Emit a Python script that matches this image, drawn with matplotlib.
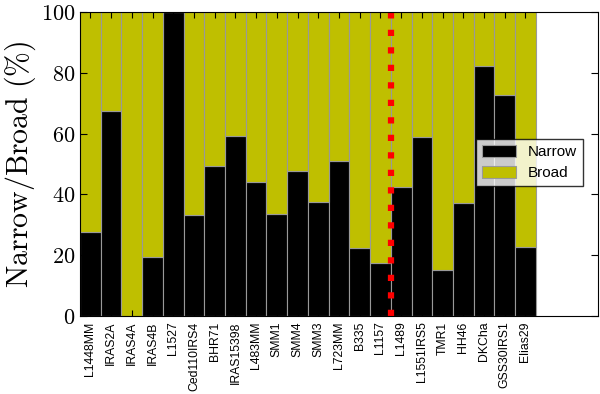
import matplotlib
matplotlib.use("Agg")
import matplotlib.pyplot as plt
import numpy as np

sources = ["L1448MM", "IRAS2A", "IRAS4A", "IRAS4B", "L1527", "Ced110IRS4", "BHR71",
           "IRAS15398", "L483MM", "SMM1", "SMM4", "SMM3", "L723MM", "B335", "L1157",
           "L1489", "L1551IRS5", "TMR1", "HH46", "DKCha", "GSS30IRS1", "Elias29"]
narrow = [27.5, 67.5, 0, 19.5, 100, 33.3, 49.2, 59.2, 44.0, 33.4, 47.8, 37.5, 51.0,
          22.4, 17.5, 42.3, 58.8, 15.2, 37.2, 82.3, 72.8, 22.8]
broad = [100 - v for v in narrow]
divider = 15

plt.rcParams['mathtext.fontset'] = 'cm'

fig = plt.figure(figsize=(6.0, 3.94), dpi=100)
ax = fig.add_axes([0.1333, 0.198, 0.8634, 0.7715])

x = np.arange(len(sources))
ax.bar(x, narrow, width=1.0, align='edge', color='k', edgecolor='#999999', linewidth=0.8, label='Narrow')
ax.bar(x, broad, width=1.0, bottom=narrow, align='edge', color='#bfbf00', edgecolor='#999999', linewidth=0.8, label='Broad')
ax.axvline(divider, color='r', linestyle='--', linewidth=4.5, dashes=(1.0, 1.8))

ax.set_xlim(0, 25)
ax.set_ylim(0, 100)
ax.set_xticks(x + 0.5)
ax.set_xticklabels(sources, rotation=90, fontsize=8.8, family='Liberation Sans')
yt = [0, 20, 40, 60, 80, 100]
ax.set_yticks(yt)
ax.set_yticklabels([f'${v}$' for v in yt], fontsize=16)
ax.tick_params(direction='in', top=True, right=True, length=5)
ax.tick_params(axis='x', length=4, pad=4)
ax.set_ylabel(r'$\mathrm{Narrow/Broad\ (\%)}$', fontsize=21.5, labelpad=2)

ax.legend(loc='center right', bbox_to_anchor=(0.985, 0.505),
          prop={'family': 'Liberation Sans', 'size': 11},
          frameon=True, fancybox=False, edgecolor='k', handlelength=2.2,
          handleheight=0.85, borderpad=0.4, labelspacing=0.45, handletextpad=0.75)
leg = ax.get_legend()
leg.get_frame().set_linewidth(1.0)

fig.savefig('out.png', dpi=100)
